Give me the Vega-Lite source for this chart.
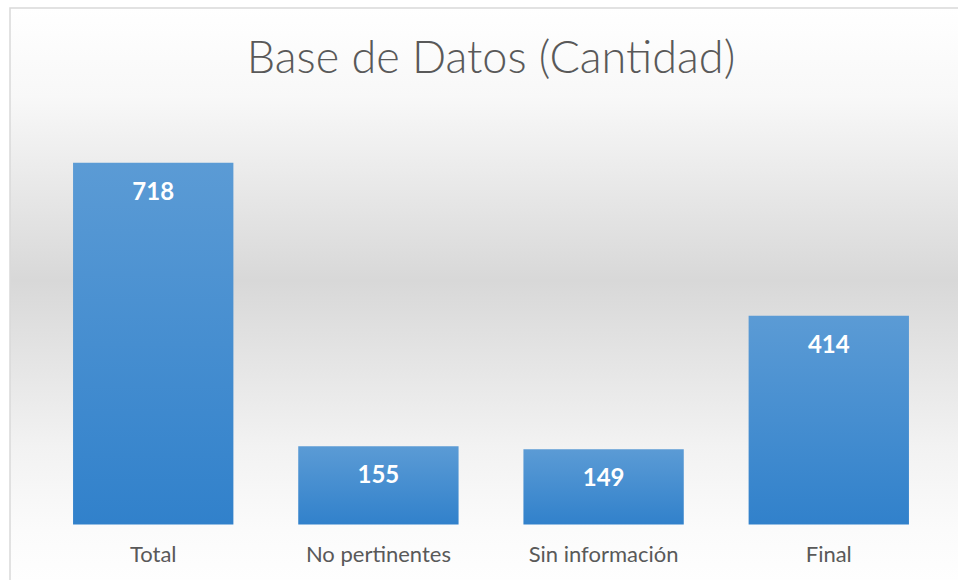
{
  "$schema": "https://vega.github.io/schema/vega-lite/v6.json",
  "autosize": "none",
  "padding": {"left": 10, "top": 8, "right": 0, "bottom": 0},
  "width": 962,
  "height": 592,
  "background": "#ffffff",
  "title": {
    "text": "Base de Datos (Cantidad)",
    "font": "Lato",
    "fontSize": 45,
    "fontWeight": 300,
    "color": "#595959",
    "anchor": "middle",
    "frame": "group",
    "baseline": "alphabetic",
    "offset": -110
  },
  "config": {
    "view": {
      "stroke": "#d9d9d9",
      "strokeWidth": 1.5,
      "fill": {
        "gradient": "linear",
        "x1": 0, "y1": 0, "x2": 0, "y2": 1,
        "stops": [
          {"offset": 0, "color": "#ffffff"},
          {"offset": 0.15, "color": "#f8f8f8"},
          {"offset": 0.46, "color": "#d8d8d8"},
          {"offset": 0.74, "color": "#f2f2f2"},
          {"offset": 0.88, "color": "#fbfbfb"},
          {"offset": 1, "color": "#ffffff"}
        ]
      }
    }
  },
  "data": {
    "values": [
      {"categoria": "Total", "cantidad": 718},
      {"categoria": "No pertinentes", "cantidad": 155},
      {"categoria": "Sin información", "cantidad": 149},
      {"categoria": "Final", "cantidad": 414}
    ]
  },
  "encoding": {
    "x": {
      "field": "categoria",
      "type": "nominal",
      "sort": null,
      "scale": {"paddingInner": 0.288, "paddingOuter": 0.28},
      "axis": {
        "title": null,
        "domain": false,
        "ticks": false,
        "grid": false,
        "labelAngle": 0,
        "labelFont": "Lato",
        "labelFontSize": 22,
        "labelColor": "#595959",
        "labelPadding": 0,
        "offset": -56
      }
    },
    "y": {
      "field": "cantidad",
      "type": "quantitative",
      "scale": {"domain": [-150, 1025], "nice": false},
      "axis": null
    }
  },
  "layer": [
    {
      "mark": {
        "type": "bar",
        "color": {
          "gradient": "linear",
          "x1": 0, "y1": 0, "x2": 0, "y2": 1,
          "stops": [
            {"offset": 0, "color": "#5b9bd5"},
            {"offset": 1, "color": "#3181cb"}
          ]
        }
      }
    },
    {
      "mark": {
        "type": "text",
        "font": "Lato",
        "fontWeight": "bold",
        "fontSize": 24,
        "color": "#ffffff",
        "baseline": "top",
        "dy": 18
      },
      "encoding": {
        "text": {"field": "cantidad", "type": "quantitative"}
      }
    }
  ]
}
